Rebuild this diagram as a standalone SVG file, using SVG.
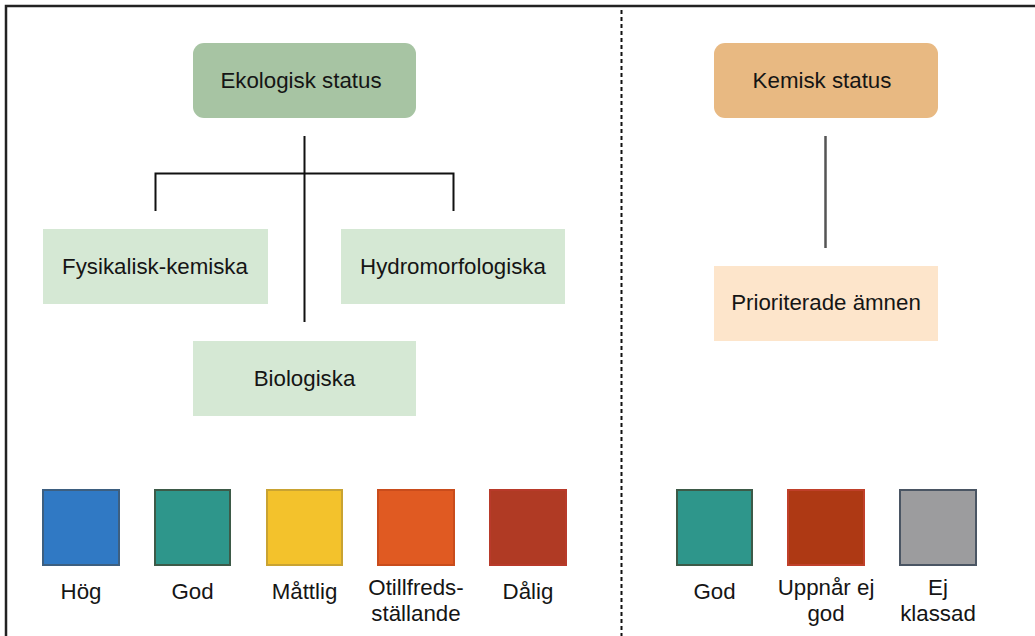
<svg xmlns="http://www.w3.org/2000/svg" width="1035" height="636" viewBox="0 0 1035 636">
<style>
text{font-family:"Liberation Sans",Arial,sans-serif;font-size:22.3px;fill:#151515;text-anchor:middle}
.sub{fill:#d5e8d4}
.conn{fill:none;stroke:#111;stroke-width:2}
.sw{stroke-width:2}
</style>
<rect width="1035" height="636" fill="#fff"/>
<rect x="6" y="6" width="1060" height="660" fill="none" stroke="#222" stroke-width="2.5"/>
<line x1="621.5" y1="10" x2="621.5" y2="636" stroke="#111" stroke-width="2" stroke-dasharray="4,3"/>
<g id="connectors">
<path class="conn" d="M304.5 136V322M155.5 211V173.5H453.5V211"/>
<line x1="825.5" y1="136" x2="825.5" y2="248" stroke="#555" stroke-width="2.5"/>
</g>
<g id="ekologisk"><rect x="193" y="43" width="223" height="75" rx="11" fill="#a7c4a3"/><text x="301" y="88">Ekologisk status</text></g>
<g id="fysikalisk"><rect class="sub" x="43" y="229" width="225" height="75"/><text x="155" y="274">Fysikalisk-kemiska</text></g>
<g id="hydro"><rect class="sub" x="341" y="229" width="224" height="75"/><text x="453" y="274">Hydromorfologiska</text></g>
<g id="bio"><rect class="sub" x="193" y="341" width="223" height="75"/><text x="304.5" y="386">Biologiska</text></g>
<g id="kemisk"><rect x="714" y="43" width="224" height="75" rx="11" fill="#e8b982"/><text x="822" y="88">Kemisk status</text></g>
<g id="prioriterade"><rect x="714" y="266" width="224" height="75" fill="#fde5cb"/><text x="826" y="310">Prioriterade ämnen</text></g>
<g id="hog"><rect class="sw" x="43" y="490" width="76" height="75" fill="#3079c4" stroke="#3d5f80"/><text x="81" y="599">Hög</text></g>
<g id="god1"><rect class="sw" x="155" y="490" width="75" height="75" fill="#2e968b" stroke="#3d5a48"/><text x="192.5" y="599">God</text></g>
<g id="mattlig"><rect class="sw" x="267" y="490" width="75" height="75" fill="#f3c22c" stroke="#c9a332"/><text x="304.5" y="599">Måttlig</text></g>
<g id="otillfreds"><rect class="sw" x="378" y="490" width="76" height="75" fill="#e05a22" stroke="#c94c1c"/><text x="416" y="595">Otillfreds-</text><text x="416" y="621">ställande</text></g>
<g id="dalig"><rect class="sw" x="490" y="490" width="76" height="75" fill="#b03a24" stroke="#b83a2a"/><text x="528" y="599">Dålig</text></g>
<g id="god2"><rect class="sw" x="677" y="490" width="75" height="75" fill="#2e968b" stroke="#3d5a48"/><text x="714.5" y="599">God</text></g>
<g id="uppnar"><rect class="sw" x="788" y="490" width="76" height="75" fill="#ae3914" stroke="#c0402a"/><text x="826" y="595">Uppnår ej</text><text x="826" y="621">god</text></g>
<g id="ejklassad"><rect class="sw" x="900" y="490" width="76" height="75" fill="#9c9c9e" stroke="#4a5563"/><text x="938" y="595">Ej</text><text x="938" y="621">klassad</text></g>
</svg>
